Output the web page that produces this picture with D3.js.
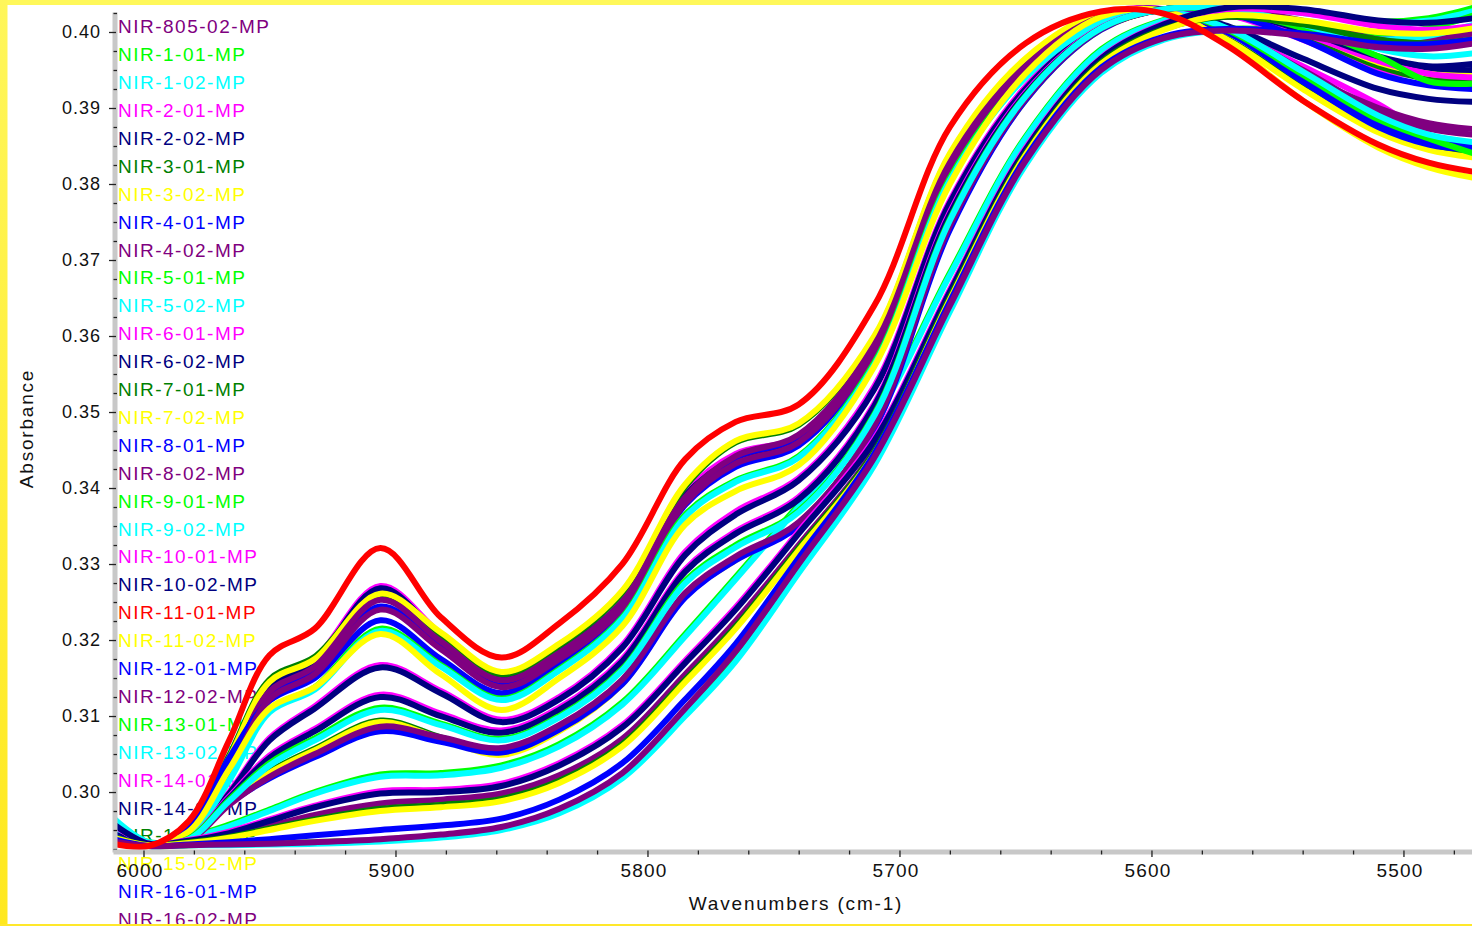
<!DOCTYPE html>
<html>
<head>
<meta charset="utf-8">
<script src="https://cdn.jsdelivr.net/npm/d3@7"></script>
<style>
  html, body { margin: 0; padding: 0; background: #fff; overflow: hidden; }
  svg { display: block; }
  text { font-family: "Liberation Sans", Arial, sans-serif; }
</style>
</head>
<body>
<svg id="chart" width="1472" height="926"></svg>
<script>
// Wavenumber grid (cm-1) shared by every spectrum
const wavenumbers = [6012, 5998, 5982, 5966, 5950, 5932, 5906, 5882, 5858, 5835, 5810, 5785,
                     5765, 5740, 5710, 5680, 5650, 5620, 5595, 5570, 5540, 5510, 5490, 5472];

// Absorbance of each sample at the grid above
const nir805_02 = [.2948,.2931,.2934,.2942,.2955,.2970,.2985,.2990,.2998,.3022,.3070,.3155,.3225,.3325,.3450,.3650,.3840,.3960,.4005,.4020,.4010,.3995,.3992,.3998];
const nir1_01  = [.2964,.2934,.2941,.2957,.2977,.3000,.3023,.3025,.3035,.3063,.3118,.3208,.3283,.3378,.3493,.3683,.3862,.3977,.4016,.4030,.4026,.4014,.4018,.4032];
const nir1_02  = [.2966,.2934,.2940,.2955,.2975,.2998,.3020,.3022,.3032,.3060,.3115,.3205,.3280,.3375,.3490,.3680,.3860,.3975,.4015,.4030,.4025,.4012,.4015,.4028];
const nir2_01  = [.2948,.2931,.2946,.3038,.3140,.3175,.3271,.3208,.3154,.3188,.3254,.3394,.3445,.3468,.3588,.3828,.3958,.4023,.4030,.4002,.3955,.3905,.3865,.3845];
const nir2_02  = [.2950,.2931,.2945,.3035,.3138,.3172,.3268,.3205,.3152,.3185,.3250,.3390,.3440,.3465,.3585,.3825,.3955,.4022,.4030,.4008,.3965,.3925,.3912,.3908];
const nir3_01  = [.2942,.2930,.2952,.3048,.3148,.3178,.3258,.3206,.3155,.3192,.3262,.3402,.3460,.3483,.3598,.3838,.3963,.4024,.4026,.3991,.3928,.3872,.3850,.3840];
const nir3_02  = [.2940,.2930,.2950,.3045,.3145,.3175,.3261,.3210,.3158,.3195,.3265,.3405,.3462,.3485,.3600,.3840,.3965,.4025,.4026,.3990,.3925,.3868,.3845,.3835];
const nir4_01  = [.2946,.2931,.2950,.3035,.3128,.3160,.3244,.3190,.3140,.3178,.3246,.3385,.3440,.3468,.3585,.3825,.3952,.4019,.4028,.4002,.3940,.3880,.3858,.3850];
const nir4_02  = [.2945,.2931,.2948,.3030,.3132,.3165,.3253,.3198,.3147,.3183,.3250,.3388,.3442,.3470,.3588,.3828,.3955,.4020,.4028,.4000,.3945,.3900,.3880,.3872];
const nir5_01  = [.2937,.2929,.2930,.2931,.2932,.2934,.2937,.2943,.2953,.2976,.3022,.3105,.3178,.3293,.3435,.3636,.3828,.3949,.3992,.4004,.4002,.3998,.4005,.4022];
const nir5_02  = [.2936,.2929,.2930,.2930,.2931,.2932,.2935,.2940,.2950,.2972,.3018,.3100,.3172,.3288,.3430,.3632,.3825,.3946,.3990,.4002,.3998,.3990,.3995,.4010];
const nir6_01  = [.2956,.2932,.2941,.3000,.3071,.3113,.3167,.3133,.3095,.3125,.3193,.3316,.3369,.3413,.3534,.3778,.3928,.4010,.4030,.4023,.3990,.3950,.3942,.3942];
const nir6_02  = [.2958,.2932,.2940,.2998,.3068,.3110,.3164,.3130,.3092,.3122,.3190,.3312,.3365,.3410,.3530,.3775,.3925,.4008,.4030,.4025,.3995,.3960,.3950,.3950];
const nir7_01  = [.2937,.2929,.2937,.2987,.3027,.3057,.3094,.3072,.3051,.3082,.3144,.3260,.3307,.3354,.3482,.3744,.3911,.4004,.4030,.4026,.3996,.3955,.3938,.3935];
const nir7_02  = [.2936,.2929,.2936,.2985,.3025,.3055,.3092,.3070,.3049,.3080,.3142,.3258,.3305,.3352,.3480,.3742,.3910,.4003,.4030,.4028,.4000,.3960,.3945,.3942];
const nir8_01  = [.2940,.2930,.2955,.3045,.3120,.3150,.3226,.3175,.3130,.3170,.3240,.3378,.3428,.3456,.3575,.3815,.3946,.4016,.4027,.4000,.3935,.3875,.3852,.3845];
const nir8_02  = [.2938,.2930,.2946,.3025,.3122,.3155,.3240,.3188,.3138,.3175,.3242,.3380,.3432,.3460,.3578,.3818,.3948,.4016,.4027,.4003,.3950,.3895,.3873,.3865];
const nir9_01  = [.2950,.2931,.2945,.3017,.3108,.3138,.3215,.3167,.3123,.3162,.3230,.3365,.3410,.3442,.3565,.3808,.3942,.4013,.4027,.4003,.3944,.3885,.3860,.3840];
const nir9_02  = [.2952,.2931,.2944,.3015,.3105,.3135,.3212,.3165,.3121,.3160,.3228,.3362,.3408,.3440,.3562,.3805,.3940,.4012,.4027,.4005,.3948,.3890,.3865,.3855];
const nir10_01 = [.2944,.2931,.2939,.2994,.3048,.3083,.3128,.3103,.3081,.3111,.3175,.3293,.3343,.3388,.3511,.3763,.3920,.4006,.4030,.4026,.3998,.3962,.3945,.3940];
const nir10_02 = [.2945,.2931,.2938,.2992,.3045,.3080,.3125,.3100,.3078,.3108,.3172,.3290,.3340,.3385,.3508,.3760,.3918,.4005,.4030,.4028,.4002,.3968,.3955,.3958];
const nir11_01 = [.2932,.2929,.2962,.3068,.3180,.3215,.3321,.3230,.3177,.3222,.3300,.3438,.3487,.3510,.3640,.3875,.3985,.4027,.4024,.3982,.3910,.3852,.3828,.3816];
const nir11_02 = [.2935,.2929,.2948,.3030,.3110,.3138,.3208,.3155,.3108,.3150,.3218,.3352,.3396,.3430,.3560,.3800,.3945,.4020,.4028,.3985,.3910,.3848,.3822,.3808];
const nir12_01 = [.2942,.2930,.2937,.2985,.3018,.3046,.3080,.3066,.3052,.3082,.3142,.3256,.3305,.3350,.3478,.3740,.3910,.4003,.4030,.4025,.3990,.3945,.3930,.3925];
const nir12_02 = [.2940,.2930,.2936,.2983,.3020,.3050,.3086,.3072,.3058,.3088,.3148,.3262,.3310,.3355,.3482,.3745,.3912,.4004,.4030,.4030,.4015,.3990,.3985,.3990];
const nir13_01 = [.2958,.2932,.2939,.2990,.3038,.3071,.3111,.3090,.3070,.3100,.3162,.3278,.3325,.3370,.3497,.3754,.3916,.4005,.4030,.4028,.4005,.3968,.3935,.3932];
const nir13_02 = [.2960,.2932,.2938,.2988,.3035,.3068,.3108,.3088,.3068,.3098,.3160,.3275,.3322,.3368,.3495,.3752,.3915,.4005,.4030,.4030,.4010,.3978,.3968,.3972];
const nir14_01 = [.2957,.2932,.2937,.2948,.2964,.2982,.3001,.3003,.3011,.3038,.3088,.3173,.3243,.3343,.3465,.3661,.3847,.3966,.4011,.4030,.4025,.4008,.4003,.4008];
const nir14_02 = [.2958,.2932,.2936,.2946,.2962,.2980,.2998,.3000,.3008,.3035,.3085,.3170,.3240,.3340,.3462,.3658,.3845,.3965,.4010,.4032,.4030,.4015,.4012,.4018];
const nir15_01 = [.2941,.2930,.2934,.2941,.2952,.2964,.2978,.2983,.2991,.3015,.3063,.3148,.3218,.3321,.3448,.3651,.3840,.3960,.4004,.4020,.4010,.3990,.3985,.3990];
const nir15_02 = [.2940,.2930,.2933,.2940,.2950,.2962,.2975,.2980,.2988,.3012,.3060,.3145,.3215,.3318,.3445,.3648,.3838,.3958,.4003,.4022,.4015,.4000,.3998,.4005];
const nir16_01 = [.2938,.2929,.2931,.2934,.2938,.2943,.2950,.2956,.2965,.2990,.3038,.3122,.3195,.3308,.3445,.3645,.3834,.3953,.3994,.4004,.3998,.3985,.3984,.3990];
const nir16_02 = [.2935,.2929,.2930,.2931,.2932,.2934,.2938,.2944,.2954,.2978,.3025,.3110,.3185,.3300,.3440,.3640,.3830,.3950,.3992,.4002,.3995,.3980,.3978,.3985];

const sampleNames = ["NIR-805-02-MP","NIR-1-01-MP","NIR-1-02-MP","NIR-2-01-MP","NIR-2-02-MP",
  "NIR-3-01-MP","NIR-3-02-MP","NIR-4-01-MP","NIR-4-02-MP","NIR-5-01-MP","NIR-5-02-MP",
  "NIR-6-01-MP","NIR-6-02-MP","NIR-7-01-MP","NIR-7-02-MP","NIR-8-01-MP","NIR-8-02-MP",
  "NIR-9-01-MP","NIR-9-02-MP","NIR-10-01-MP","NIR-10-02-MP","NIR-11-01-MP","NIR-11-02-MP",
  "NIR-12-01-MP","NIR-12-02-MP","NIR-13-01-MP","NIR-13-02-MP","NIR-14-01-MP","NIR-14-02-MP",
  "NIR-15-01-MP","NIR-15-02-MP","NIR-16-01-MP","NIR-16-02-MP"];

const sampleColors = ["#800080","#00ff00","#00ffff","#ff00ff","#000080","#008000","#ffff00","#0000ff",
  "#800080","#00ff00","#00ffff","#ff00ff","#000080","#008000","#ffff00","#0000ff",
  "#800080","#00ff00","#00ffff","#ff00ff","#000080","#ff0000","#ffff00","#0000ff",
  "#800080","#00ff00","#00ffff","#ff00ff","#000080","#008000","#ffff00","#0000ff","#800080"];

const spectra = [nir805_02, nir1_01, nir1_02, nir2_01, nir2_02, nir3_01, nir3_02, nir4_01, nir4_02,
  nir5_01, nir5_02, nir6_01, nir6_02, nir7_01, nir7_02, nir8_01, nir8_02, nir9_01, nir9_02,
  nir10_01, nir10_02, nir11_01, nir11_02, nir12_01, nir12_02, nir13_01, nir13_02, nir14_01,
  nir14_02, nir15_01, nir15_02, nir16_01, nir16_02];

const highlighted = "NIR-11-01-MP";

const yTicks = [0.30, 0.31, 0.32, 0.33, 0.34, 0.35, 0.36, 0.37, 0.38, 0.39, 0.40];
const xTicks = [6000, 5900, 5800, 5700, 5600, 5500];

const svg = d3.select("#chart");
const W = 1472, H = 926;

svg.append("rect").attr("width", W).attr("height", H).attr("fill", "#ffffff");

const x = d3.scaleLinear().domain([6012.1, 5472.8]).range([113, 1472]);
const y = d3.scaleLinear().domain([0.29211, 0.40263]).range([852, 12]);

// Sample names stacked down the left edge, coloured like their traces
const legend = svg.append("g");
legend.selectAll("text")
  .data(sampleNames)
  .join("text")
  .attr("x", 118)
  .attr("y", (d, i) => 33.3 + 27.9 * i)
  .attr("fill", (d, i) => sampleColors[i])
  .style("font-size", "19px")
  .style("letter-spacing", "1.5px")
  .text(d => d);

// Spectra
svg.append("defs").append("clipPath").attr("id", "plotClip")
  .append("rect").attr("x", 113).attr("y", 5).attr("width", W - 113).attr("height", 847);

const line = d3.line()
  .x((d, i) => x(wavenumbers[i]))
  .y(d => y(d))
  .curve(d3.curveCatmullRom.alpha(0.5));

const traces = sampleNames.map((name, i) => ({ name, color: sampleColors[i], values: spectra[i] }));
const ordered = traces.filter(t => t.name !== highlighted)
  .concat(traces.filter(t => t.name === highlighted));

svg.append("g").attr("clip-path", "url(#plotClip)")
  .selectAll("path")
  .data(ordered)
  .join("path")
  .attr("d", d => line(d.values))
  .attr("fill", "none")
  .attr("stroke", d => d.color)
  .attr("stroke-width", 6)
  .attr("stroke-linejoin", "round")
  .attr("stroke-linecap", "round");

// Y axis
const yMinor = d3.range(0.2925, 0.4030, 0.0025).filter(v => Math.abs(v * 100 - Math.round(v * 100)) > 1e-6);

const yAxisG = svg.append("g").attr("transform", "translate(114.5,0)")
  .call(d3.axisLeft(y).tickValues(yTicks).tickSize(6).tickSizeOuter(0).tickFormat(d3.format(".2f")));
yAxisG.select(".domain").attr("stroke", "#c8c8c8").attr("stroke-width", 5);
yAxisG.selectAll(".tick line").attr("x1", 1.5).attr("x2", -5.5).attr("stroke", "#222").attr("stroke-width", 1.3);
yAxisG.selectAll(".tick text")
  .attr("x", -13.5).attr("dy", "0.3em").attr("fill", "#111")
  .style("font-size", "18px").style("letter-spacing", "1px")
  .style("font-family", "'Liberation Sans', Arial, sans-serif");

const yMinorG = svg.append("g").attr("transform", "translate(114.5,0)")
  .call(d3.axisLeft(y).tickValues(yMinor).tickSize(3).tickFormat(""));
yMinorG.select(".domain").remove();
yMinorG.selectAll(".tick line").attr("x1", 2.5).attr("x2", -1).attr("stroke", "#222").attr("stroke-width", 1.3);

// X axis
const xMinor = d3.range(6000, 5470, -20).filter(v => v % 100 !== 0);

const xAxisG = svg.append("g").attr("transform", "translate(0,851.5)")
  .call(d3.axisBottom(x).tickValues(xTicks).tickSize(6).tickSizeOuter(0).tickFormat(d3.format("d")));
xAxisG.select(".domain").attr("stroke", "#c8c8c8").attr("stroke-width", 5);
xAxisG.selectAll(".tick line").attr("y1", -1).attr("y2", 5.5).attr("stroke", "#222").attr("stroke-width", 1.3);
xAxisG.selectAll(".tick text")
  .attr("x", -4).attr("y", 12).attr("fill", "#111")
  .style("font-size", "19px").style("letter-spacing", "1.2px")
  .style("font-family", "'Liberation Sans', Arial, sans-serif");

const xMinorG = svg.append("g").attr("transform", "translate(0,851.5)")
  .call(d3.axisBottom(x).tickValues(xMinor).tickSize(3).tickFormat(""));
xMinorG.select(".domain").remove();
xMinorG.selectAll(".tick line").attr("y1", -1).attr("y2", 3).attr("stroke", "#222").attr("stroke-width", 1.3);

// Axis titles
svg.append("text")
  .attr("transform", "translate(33,428.5) rotate(-90)")
  .attr("text-anchor", "middle")
  .attr("fill", "#111")
  .style("font-size", "19px").style("letter-spacing", "1.8px")
  .text("Absorbance");

svg.append("text")
  .attr("x", 796).attr("y", 910)
  .attr("text-anchor", "middle")
  .attr("fill", "#111")
  .style("font-size", "19px").style("letter-spacing", "1.8px")
  .text("Wavenumbers (cm-1)");

// Yellow window frame
const grad = svg.select("defs").append("linearGradient")
  .attr("id", "frameGrad").attr("x1", 0).attr("y1", 0).attr("x2", 0).attr("y2", 1);
grad.append("stop").attr("offset", "0%").attr("stop-color", "#fff65a");
grad.append("stop").attr("offset", "100%").attr("stop-color", "#ffe81e");

svg.append("rect").attr("x", 0).attr("y", 0).attr("width", W).attr("height", 5).attr("fill", "#fff85a");
svg.append("rect").attr("x", 0).attr("y", 0).attr("width", 7.5).attr("height", H).attr("fill", "url(#frameGrad)");
svg.append("rect").attr("x", 0).attr("y", 924).attr("width", W).attr("height", 2).attr("fill", "#ffe82a");
</script>
</body>
</html>
